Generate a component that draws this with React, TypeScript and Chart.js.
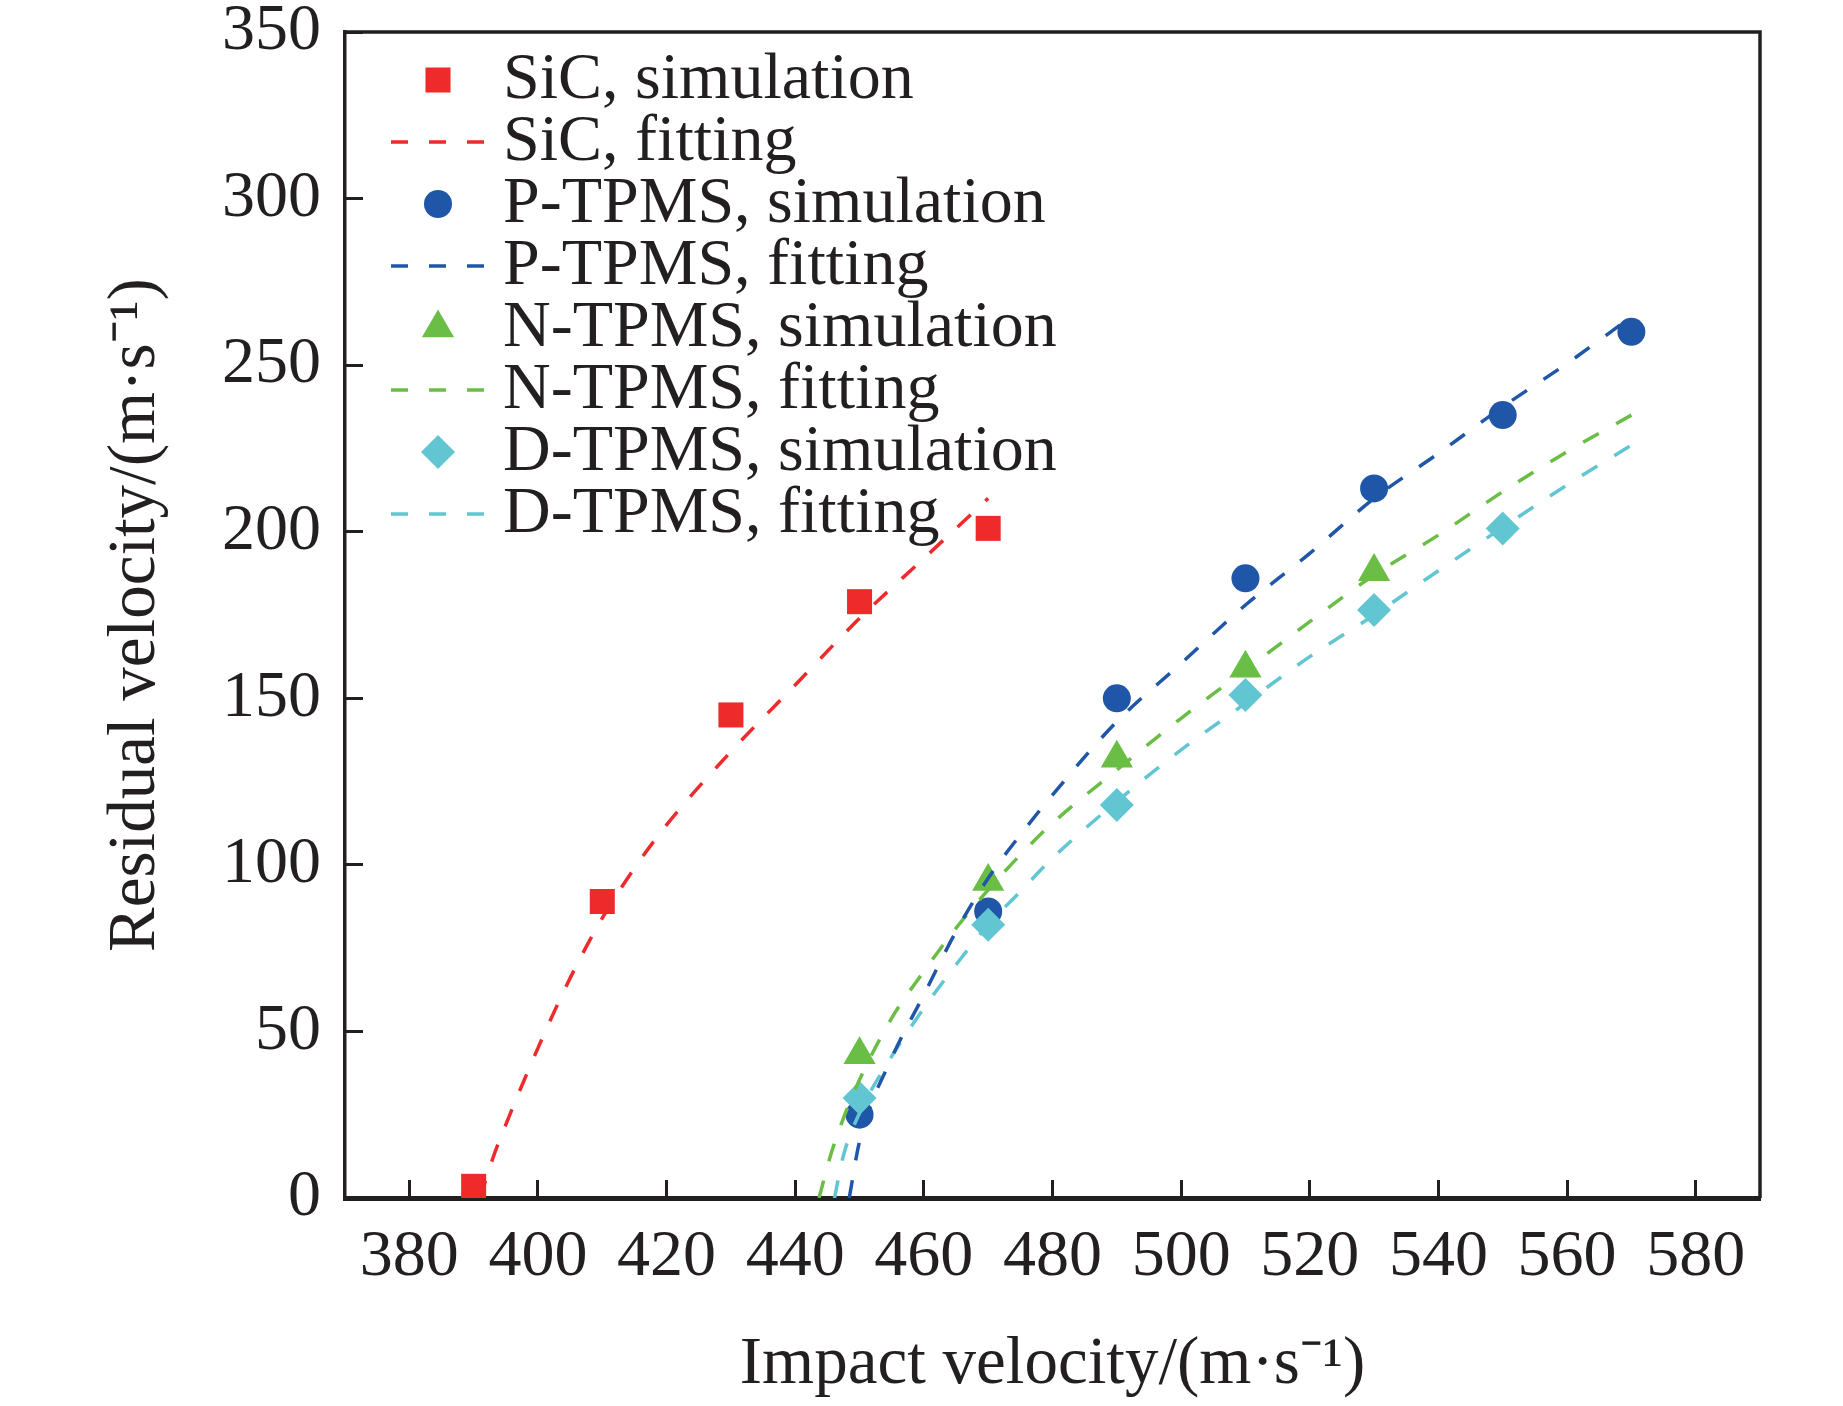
import { Chart, ChartConfiguration, registerables } from "chart.js";
import { useEffect, useRef } from "react";

Chart.register(...registerables);

const SERIF = '"Liberation Serif", "Times New Roman", serif';
const INK = "#231f20";

// Axis ticks
const xTickValues = [380, 400, 420, 440, 460, 480, 500, 520, 540, 560, 580];
const yTickValues = [0, 50, 100, 150, 200, 250, 300, 350];

// Simulation results (impact velocity -> residual velocity)
const sicVelocity = [390, 410, 430, 450, 470];
const sicResidual = [3.5, 89, 145, 179, 201];
const pVelocity = [450, 470, 490, 510, 530, 550, 570];
const pResidual = [25, 86, 150, 186, 213, 235, 260];
const nVelocity = [450, 470, 490, 510, 530];
const nResidual = [43, 95, 132, 159, 188];
const dVelocity = [450, 470, 490, 510, 530, 550];
const dResidual = [30, 82, 118, 151, 176.5, 201];

// Fitting curves
const sicFitX = [391, 393, 395, 400, 405, 410, 415, 420, 430, 440, 450, 460, 470];
const sicFitY = [0, 12, 22, 45, 66, 84, 99, 112, 134, 154, 174, 192, 210];
const pFitX = [448.4, 450, 455, 460, 465, 470, 475, 480, 490, 500, 510, 520, 530, 540, 550, 560, 570];
const pFitY = [0, 17, 42, 61, 80, 96, 109, 121, 143, 160.5, 178, 193.5, 210, 223.5, 237.5, 250.5, 264.5];
const nFitX = [443.7, 445.5, 447.5, 450, 455, 460, 465, 470, 475, 480, 490, 500, 510, 520, 530, 540, 550, 560, 570];
const nFitY = [0, 12.8, 24, 35.5, 54, 68, 81, 92.5, 103, 112.5, 128.5, 144, 158.5, 173, 187, 199, 212, 224, 235];
const dFitX = [446.1, 447.5, 450, 455, 460, 465, 470, 475, 480, 490, 500, 510, 520, 530, 540, 550, 560, 570];
const dFitY = [0, 12.8, 25.5, 42.5, 57, 70, 82, 92, 102, 119, 134.5, 148.5, 162.5, 175, 188.3, 201.3, 214, 226];

const RED = "#ee2a2a";
const BLUE = "#1f56a8";
const GREEN = "#6abd45";
const CYAN = "#62c6d2";

const DASH = [18, 20];

const toPoints = (xs: number[], ys: number[]) =>
  xs.map((x, i) => ({ x, y: ys[i] }));

// eslint-disable-next-line @typescript-eslint/no-explicit-any
const simulation = (label: string, xs: number[], ys: number[], color: string, pointStyle: string, radius: number, order: number): any => ({
  label,
  data: toPoints(xs, ys),
  showLine: false,
  pointStyle,
  pointRadius: radius,
  pointHoverRadius: radius,
  pointBorderWidth: 0,
  backgroundColor: color,
  borderColor: color,
  order,
});

// eslint-disable-next-line @typescript-eslint/no-explicit-any
const fitting = (label: string, xs: number[], ys: number[], color: string, order: number): any => ({
  label,
  data: toPoints(xs, ys),
  showLine: true,
  pointRadius: 0,
  pointHoverRadius: 0,
  borderColor: color,
  backgroundColor: color,
  borderWidth: 3.5,
  borderDash: DASH,
  cubicInterpolationMode: "monotone",
  fill: false,
  order,
});

// draw a legend symbol the same way Chart.js draws its point styles
const drawMarker = (ctx: CanvasRenderingContext2D, style: string, r: number, x: number, y: number, color: string) => {
  ctx.fillStyle = color;
  ctx.beginPath();
  if (style === "rect") {
    const s = Math.SQRT1_2 * r;
    ctx.rect(x - s, y - s, 2 * s, 2 * s);
  } else if (style === "circle") {
    ctx.arc(x, y, r, 0, Math.PI * 2);
  } else if (style === "triangle") {
    const h = r * Math.sin(Math.PI / 3);
    ctx.moveTo(x, y - r);
    ctx.lineTo(x + h, y + r / 2);
    ctx.lineTo(x - h, y + r / 2);
    ctx.closePath();
  } else {
    ctx.moveTo(x - r, y);
    ctx.lineTo(x, y - r);
    ctx.lineTo(x + r, y);
    ctx.lineTo(x, y + r);
    ctx.closePath();
  }
  ctx.fill();
};

// the axes only give left and bottom; close the box
const framePlugin = {
  id: "frame",
  afterDatasetsDraw(chart: Chart) {
    const { ctx, chartArea: a } = chart;
    ctx.save();
    ctx.strokeStyle = INK;
    ctx.lineWidth = 3.5;
    ctx.setLineDash([]);
    ctx.beginPath();
    ctx.moveTo(a.left, a.top);
    ctx.lineTo(a.right, a.top);
    ctx.lineTo(a.right, a.bottom);
    ctx.stroke();
    ctx.restore();
  },
};

const legendPlugin = {
  id: "insideLegend",
  afterDraw(chart: Chart) {
    const ctx = chart.ctx;
    ctx.save();
    ctx.font = `66px ${SERIF}`;
    ctx.textBaseline = "alphabetic";
    chart.data.datasets.forEach((ds, i) => {
      // eslint-disable-next-line @typescript-eslint/no-explicit-any
      const d = ds as any;
      const y = 80 + i * 62;
      if (d.showLine) {
        ctx.strokeStyle = d.borderColor;
        ctx.lineWidth = 3.3;
        ctx.setLineDash([17, 21]);
        ctx.beginPath();
        ctx.moveTo(391, y);
        ctx.lineTo(485, y);
        ctx.stroke();
        ctx.setLineDash([]);
      } else {
        drawMarker(ctx, d.pointStyle, d.pointRadius, 438, y, d.backgroundColor);
      }
      ctx.fillStyle = INK;
      ctx.fillText(d.label, 503, y + 18);
    });
    ctx.restore();
  },
};

// drop the label overflow padding so the plot box sits where the layout says
// eslint-disable-next-line @typescript-eslint/no-explicit-any
const clearPadding = (scale: any) => {
  scale.paddingTop = 0;
  scale.paddingBottom = 0;
  scale.paddingLeft = 0;
  scale.paddingRight = 0;
};

const App: React.FC = () => {
  const canvasRef = useRef<HTMLCanvasElement>(null);

  useEffect(() => {
    if (!canvasRef.current) return;

    const config = {
      type: "scatter",
      data: {
        datasets: [
          simulation("SiC, simulation", sicVelocity, sicResidual, RED, "rect", 17.7, 7),
          fitting("SiC, fitting", sicFitX, sicFitY, RED, 0),
          simulation("P-TPMS, simulation", pVelocity, pResidual, BLUE, "circle", 14, 6),
          fitting("P-TPMS, fitting", pFitX, pFitY, BLUE, 1),
          simulation("N-TPMS, simulation", nVelocity, nResidual, GREEN, "triangle", 18.6, 5),
          fitting("N-TPMS, fitting", nFitX, nFitY, GREEN, 2),
          simulation("D-TPMS, simulation", dVelocity, dResidual, CYAN, "rectRot", 17, 4),
          fitting("D-TPMS, fitting", dFitX, dFitY, CYAN, 3),
        ],
      },
      options: {
        animation: false,
        responsive: true,
        maintainAspectRatio: false,
        events: [],
        layout: { padding: { top: 32, right: 83, left: 0, bottom: 0 } },
        plugins: {
          legend: { display: false },
          tooltip: { enabled: false },
        },
        scales: {
          x: {
            type: "linear",
            position: "bottom",
            min: 370,
            max: 590,
            afterBuildTicks: (axis: { ticks: { value: number }[] }) => {
              axis.ticks = xTickValues.map((value) => ({ value }));
            },
            // eslint-disable-next-line @typescript-eslint/no-explicit-any
            afterFit: (scale: any) => {
              scale.height = 208;
              clearPadding(scale);
            },
            ticks: {
              color: INK,
              padding: 45,
              font: { family: SERIF, size: 66, lineHeight: 1 },
              maxRotation: 0,
              autoSkip: false,
            },
            grid: {
              drawOnChartArea: false,
              drawTicks: true,
              tickLength: -18,
              tickWidth: 3,
              tickColor: INK,
            },
            border: { display: true, color: INK, width: 5 },
            title: {
              display: true,
              text: "Impact velocity/(m·s⁻¹)",
              color: INK,
              font: { family: SERIF, size: 67, lineHeight: 1.2 },
              padding: { top: 0, bottom: 0 },
            },
          },
          y: {
            type: "linear",
            position: "left",
            min: 0,
            max: 350,
            afterBuildTicks: (axis: { ticks: { value: number }[] }) => {
              axis.ticks = yTickValues.map((value) => ({ value }));
            },
            // eslint-disable-next-line @typescript-eslint/no-explicit-any
            afterFit: (scale: any) => {
              scale.width = 345;
              clearPadding(scale);
            },
            ticks: {
              color: INK,
              padding: 42,
              font: { family: SERIF, size: 66, lineHeight: 1 },
              autoSkip: false,
            },
            grid: {
              drawOnChartArea: false,
              drawTicks: true,
              tickLength: -18,
              tickWidth: 3,
              tickColor: INK,
            },
            border: { display: true, color: INK, width: 3.5 },
            title: {
              display: true,
              text: "Residual velocity/(m·s⁻¹)",
              color: INK,
              font: { family: SERIF, size: 67, lineHeight: 1.2 },
              padding: { top: 96, bottom: 0 },
            },
          },
        },
      },
      plugins: [framePlugin, legendPlugin],
    } as unknown as ChartConfiguration;

    const chart = new Chart(canvasRef.current, config);
    return () => chart.destroy();
  }, []);

  return (
    <div
      style={{
        position: "absolute",
        left: 0,
        top: 0,
        width: 1843,
        height: 1406,
        background: "#ffffff",
      }}
    >
      <canvas ref={canvasRef} />
    </div>
  );
};

export default App;
